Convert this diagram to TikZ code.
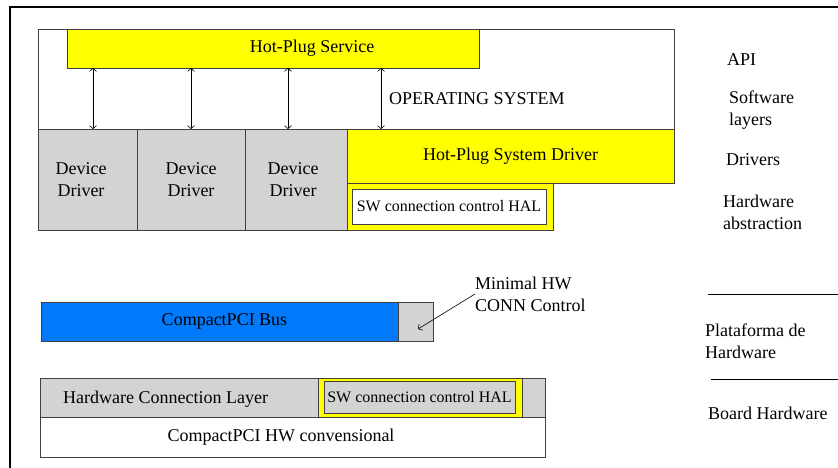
\documentclass[tikz,border=0pt]{standalone}
\usepackage{fontspec}
\setmainfont{Liberation Serif}
\usetikzlibrary{arrows.meta}
\definecolor{hpyellow}{RGB}{255,255,0}
\definecolor{drvgray}{RGB}{211,211,211}
\definecolor{busblue}{RGB}{0,122,250}
\begin{document}
\begin{tikzpicture}[x=1pt, y=-1pt,
  box/.style={draw=black!75, line width=0.8pt, inner sep=0pt, outer sep=0pt, anchor=north west},
  lbl/.style={font=\fontsize{18}{22}\selectfont, align=left, inner sep=0pt},
  small/.style={font=\fontsize{16}{19}\selectfont},
  link/.style={{Straight Barb[length=3pt,width=7pt]}-{Straight Barb[length=3pt,width=7pt]}, line width=0.6pt}]

\useasboundingbox (0,0) rectangle (838,468);

% Frame
\draw[line width=2pt] (10,468) -- (10,7) -- (838,7);

% Operating system and service layer
\node[box, fill=white, minimum width=636pt, minimum height=100pt] (os) at (38,29) {};
\node[box, fill=hpyellow, minimum width=412pt, minimum height=39pt] (hps) at (67,29) {};
\node[lbl] at (312,48) {Hot-Plug Service};
\node[lbl, anchor=west] (ostxt) at (389,99) {OPERATING SYSTEM};

% Drivers
\foreach \n/\x/\w/\t in {1/38/99/81, 2/137/108/191, 3/245/102/293} {
  \node[box, fill=drvgray, minimum width=\w pt, minimum height=101pt] (dd\n) at (\x,129) {};
  \node[lbl, align=center] at (\t,180) {Device\\Driver};
}
\node[box, fill=hpyellow, minimum width=327pt, minimum height=54pt, lbl] (hpsd) at (347,129) {Hot-Plug System Driver};
\node[box, fill=hpyellow, minimum width=206pt, minimum height=47pt] (halout) at (347,183) {};
\node[box, fill=white, minimum width=194pt, minimum height=35pt, small] (hal) at (352,189) {SW connection control HAL};

% Calls between service and drivers
\foreach \x in {93,191,288,381}
  \draw[link] (\x,0 |- hps.south) -- (\x,0 |- os.south);

% Layer names
\node[lbl, anchor=west] (api) at (727,60) {API};
\node[lbl, anchor=west] (swl) at (729,110) {Software\\layers};
\node[lbl, anchor=west] (drv) at (726,160) {Drivers};
\node[lbl, anchor=west] (hwa) at (723,212) {Hardware\\abstraction};

% Bus
\node[box, fill=busblue, minimum width=357pt, minimum height=39pt, lbl] (bus) at (41,302) {\hspace{10pt}CompactPCI Bus};
\node[box, fill=drvgray, minimum width=35pt, minimum height=39pt] (conn) at (398,302) {};
\node[lbl, anchor=west] (mhw) at (475,294) {Minimal HW\\CONN Control};
\coordinate (tip) at (418,329);
\draw[-{Straight Barb[length=3pt,width=7pt]}, line width=0.6pt] (mhw.west) -- (tip);

% Board hardware
\node[box, fill=drvgray, minimum width=505pt, minimum height=39pt] (hcl) at (40,378) {};
\node[lbl, anchor=west] at (63,399) {Hardware Connection Layer};
\node[box, fill=hpyellow, minimum width=204pt, minimum height=39pt] (hal2out) at (318,378) {};
\node[box, fill=drvgray, minimum width=191pt, minimum height=32pt, small] (hal2) at (324,381) {SW connection control HAL};
\node[box, fill=white, minimum width=505pt, minimum height=40pt] (hwc) at (40,417) {};
\node[lbl] at (281,437) {CompactPCI HW convensional};

% Platform separators
\draw[line width=0.9pt] (708,294) -- (838,294);
\draw[line width=0.9pt] (711,379) -- (838,379);
\node[lbl, anchor=west] (plat) at (705,341) {Plataforma de\\Hardware};
\node[lbl, anchor=west] (brd) at (708,413) {Board Hardware};

\end{tikzpicture}
\end{document}
